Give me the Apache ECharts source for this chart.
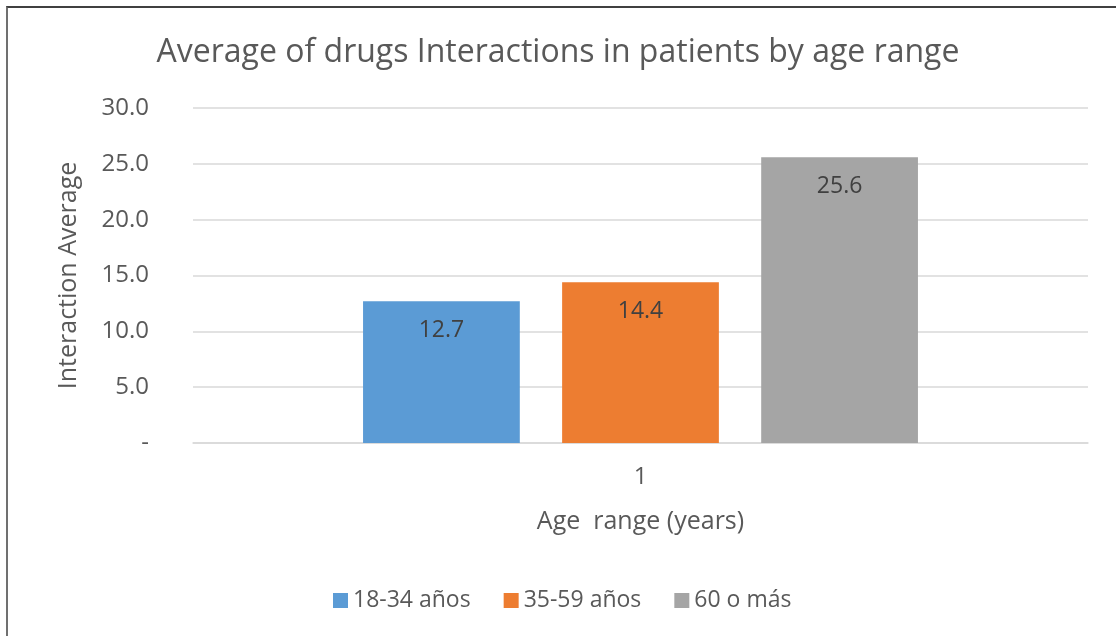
<!DOCTYPE html>
<html>
<head>
<meta charset="utf-8">
<script src="https://cdn.jsdelivr.net/npm/echarts@6/dist/echarts.min.js"></script>
<style>
  html, body { margin: 0; padding: 0; background: #fff; }
  #chart { position: absolute; left: 0; top: 0; width: 1116px; height: 636px; }
  .frame {
    position: absolute; left: 6px; top: 6px; width: 1110px; height: 630px;
    border-left: 2px solid #707070; border-top: 2px solid #404040;
    pointer-events: none;
  }
</style>
</head>
<body>
<div id="chart"></div>
<div class="frame"></div>
<script>
// data
var categories = ['1']
var seriesNames = ['18-34 años', '35-59 años', '60 o más']
var seriesValues = [[12.7], [14.4], [25.6]]
var seriesColors = ['#5B9BD5', '#ED7D31', '#A5A5A5']

var font = 'Open Sans'
var textColor = '#595959'

var series = seriesNames.map(function (name, i) {
  return {
    name: name,
    type: 'bar',
    data: seriesValues[i],
    barGap: '27%',
    barCategoryGap: '38%',
    itemStyle: { color: seriesColors[i] },
    label: {
      show: true,
      position: 'insideTop',
      distance: 18,
      color: '#404040',
      fontFamily: font,
      fontSize: 23,
      formatter: function (p) { return p.value.toFixed(1) }
    }
  }
})

var option = {
  animation: false,
  textStyle: { fontFamily: font },
  title: {
    text: 'Average of drugs Interactions in patients by age range',
    left: 'center',
    top: 32,
    textStyle: { color: textColor, fontFamily: font, fontSize: 32, fontWeight: 'normal' }
  },
  legend: {
    bottom: 19,
    left: 328,
    icon: 'rect',
    itemWidth: 15,
    itemHeight: 15,
    itemGap: 33,
    textStyle: { color: textColor, fontFamily: font, fontSize: 23 },
    data: seriesNames
  },
  grid: { left: 193, right: 28, top: 108, bottom: 193 },
  xAxis: {
    type: 'category',
    data: categories,
    name: 'Age  range (years)',
    nameLocation: 'middle',
    nameGap: 66,
    nameTextStyle: { color: textColor, fontFamily: font, fontSize: 25 },
    axisLine: { lineStyle: { color: '#D9D9D9', width: 1.5 } },
    axisTick: { show: false },
    axisLabel: { color: textColor, fontFamily: font, fontSize: 24, margin: 22 }
  },
  yAxis: {
    type: 'value',
    min: 0,
    max: 30,
    interval: 5,
    name: 'Interaction Average',
    nameLocation: 'middle',
    nameGap: 112,
    nameTextStyle: { color: textColor, fontFamily: font, fontSize: 25 },
    axisLine: { show: false },
    axisTick: { show: false },
    splitLine: { lineStyle: { color: '#D9D9D9', width: 1.5 } },
    axisLabel: {
      color: textColor, fontFamily: font, fontSize: 24, margin: 44,
      formatter: function (v) { return v === 0 ? '-' : v.toFixed(1) }
    }
  },
  series: series
}

var chart = echarts.init(document.getElementById('chart'))
chart.setOption(option)
</script>
</body>
</html>
